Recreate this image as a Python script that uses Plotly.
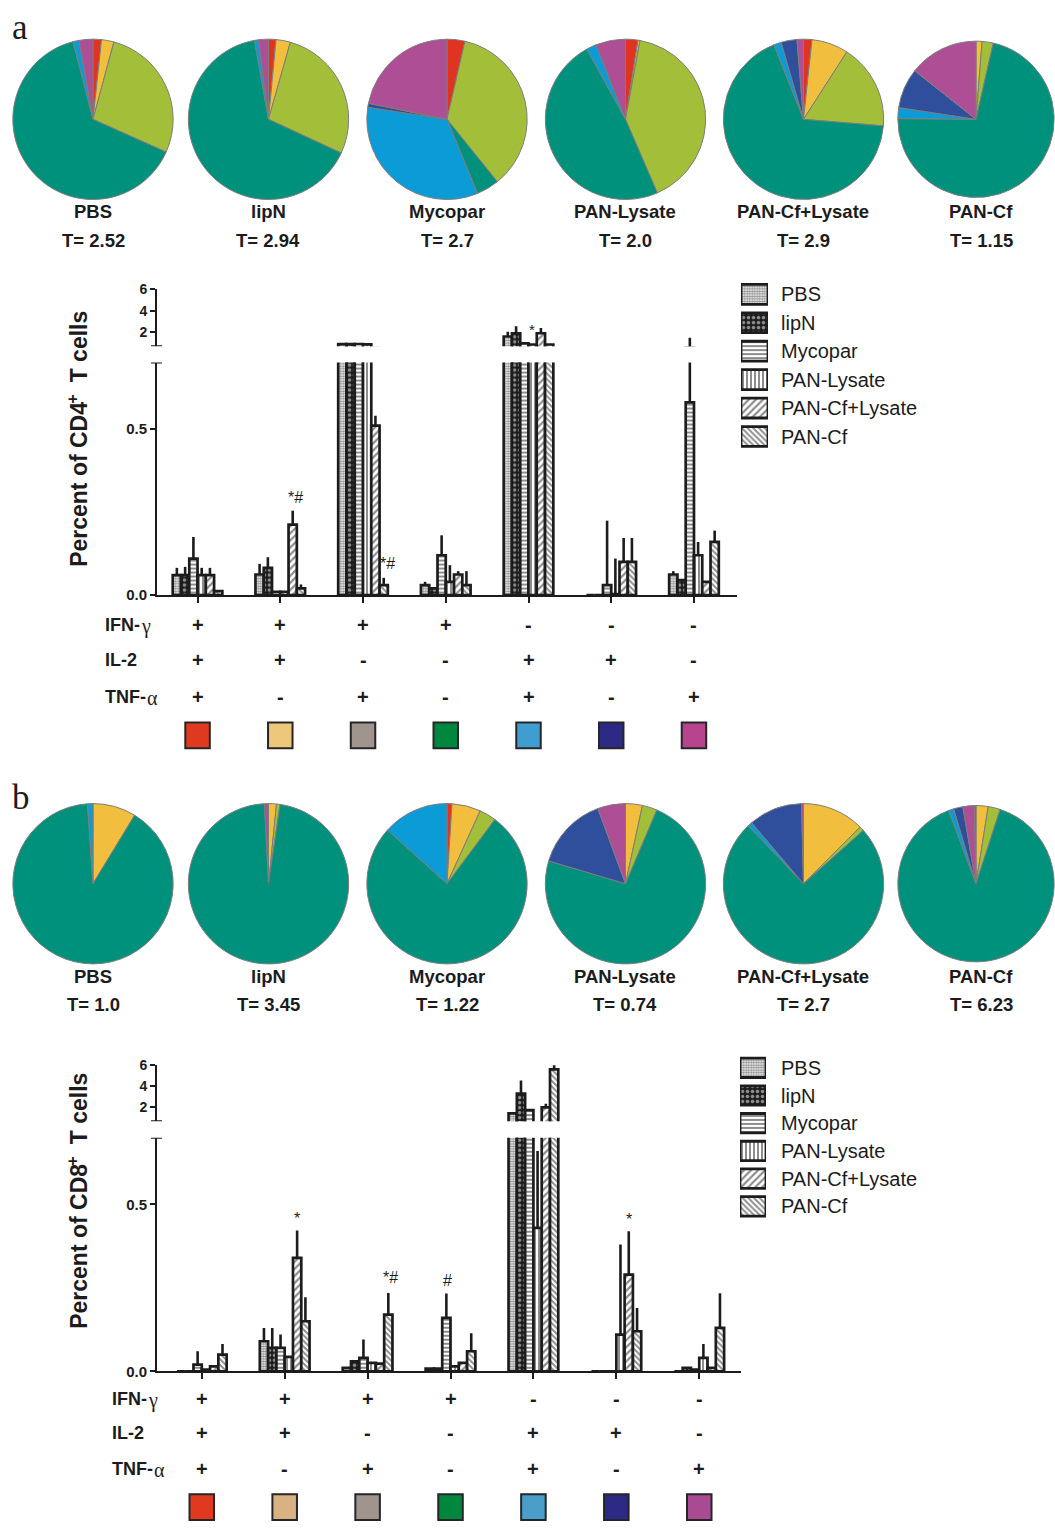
import plotly.graph_objects as go

W, H = 1055, 1530
INK = "#1c1c1c"
SANS = "Liberation Sans, Arial, sans-serif"
SERIF = "Liberation Serif, Times New Roman, serif"

treatments = ["PBS", "lipN", "Mycopar", "PAN-Lysate", "PAN-Cf+Lysate", "PAN-Cf"]

# cytokine combinations along the bar-chart x axis
ifn_signs = ["+", "+", "+", "+", "-", "-", "-"]
il2_signs = ["+", "+", "-", "-", "+", "+", "-"]
tnf_signs = ["+", "-", "+", "-", "+", "-", "+"]
cd4_key_colors = ["#df3a20", "#eec87a", "#9f948e", "#00873f", "#409dcf", "#2d2a86", "#b8448f"]
cd8_key_colors = ["#df3a20", "#d9b182", "#9f948e", "#00873f", "#4a9ec9", "#2d2a86", "#a84b93"]

# ---- pie charts (slices listed clockwise from 12 o'clock, % of responders) ----
pie_slice_colors = {
    "teal": "#00917d", "ygreen": "#a3bf39", "red": "#df3520", "yellow": "#f1bf3d",
    "magenta": "#ae4f95", "lblue": "#0b9bd7", "dblue": "#2f4f9c",
}
cd4_pie_slices = [
    ["red", "yellow", "ygreen", "teal", "lblue", "magenta"],
    ["red", "yellow", "ygreen", "teal", "lblue", "magenta"],
    ["red", "ygreen", "teal", "lblue", "dblue", "magenta"],
    ["red", "yellow", "ygreen", "teal", "lblue", "magenta"],
    ["red", "yellow", "ygreen", "teal", "lblue", "dblue", "magenta"],
    ["yellow", "ygreen", "teal", "lblue", "dblue", "magenta"],
]
cd4_pie_values = [
    [1.7, 2.5, 27.5, 64.3, 1.2, 2.8],
    [1.5, 2.9, 27.5, 65.3, 0.8, 2.0],
    [3.6, 35.6, 4.6, 33.6, 0.8, 21.8],
    [2.5, 0.4, 40.6, 48.5, 2.0, 6.0],
    [1.7, 7.4, 17.2, 67.7, 1.5, 3.2, 1.3],
    [1.25, 2.3, 71.6, 2.25, 8.25, 14.35],
]
cd4_pie_T = ["2.52", "2.94", "2.7", "2.0", "2.9", "1.15"]

cd8_pie_slices = [
    ["yellow", "teal", "lblue"],
    ["yellow", "ygreen", "teal", "magenta"],
    ["red", "yellow", "ygreen", "teal", "lblue"],
    ["yellow", "ygreen", "teal", "dblue", "magenta"],
    ["yellow", "ygreen", "teal", "lblue", "dblue", "magenta"],
    ["yellow", "ygreen", "teal", "lblue", "dblue", "magenta", "red"],
]
cd8_pie_values = [
    [8.7, 90.2, 1.1],
    [1.6, 0.7, 96.9, 0.8],
    [1.0, 5.8, 3.4, 76.5, 13.3],
    [3.4, 3.0, 73.2, 14.8, 5.6],
    [12.5, 0.9, 74.5, 0.9, 10.8, 0.4],
    [2.5, 2.5, 89.3, 1.1, 1.9, 2.4, 0.3],
]
cd8_pie_T = ["1.0", "3.45", "1.22", "0.74", "2.7", "6.23"]

# ---- bar charts: mean and upper error for each cytokine combination ----
cd4_pbs = [0.060, 0.062, 0.88, 0.030, 1.60, 0.0, 0.062]
cd4_pbs_err = [0.022, 0.032, 0.0, 0.010, 0.45, 0.0, 0.010]
cd4_lipn = [0.060, 0.082, 0.88, 0.020, 1.90, 0.0, 0.045]
cd4_lipn_err = [0.025, 0.032, 0.0, 0.0, 0.65, 0.0, 0.0]
cd4_mycopar = [0.110, 0.010, 0.90, 0.120, 0.95, 0.030, 0.580]
cd4_mycopar_err = [0.065, 0.0, 0.10, 0.060, 0.0, 0.194, 0.90]
cd4_panlys = [0.060, 0.010, 0.86, 0.040, 0.85, 0.003, 0.120]
cd4_panlys_err = [0.022, 0.0, 0.0, 0.050, 0.0, 0.107, 0.040]
cd4_pancflys = [0.060, 0.212, 0.51, 0.062, 1.90, 0.100, 0.040]
cd4_pancflys_err = [0.022, 0.042, 0.03, 0.010, 0.50, 0.072, 0.0]
cd4_pancf = [0.012, 0.020, 0.030, 0.030, 0.85, 0.100, 0.160]
cd4_pancf_err = [0.0, 0.012, 0.022, 0.042, 0.0, 0.072, 0.034]

cd8_pbs = [0.0, 0.090, 0.010, 0.008, 1.45, 0.0, 0.0]
cd8_pbs_err = [0.0, 0.040, 0.0, 0.0, 0.0, 0.0, 0.0]
cd8_lipn = [0.0, 0.070, 0.030, 0.008, 3.30, 0.0, 0.010]
cd8_lipn_err = [0.0, 0.060, 0.0, 0.0, 1.25, 0.0, 0.0]
cd8_mycopar = [0.020, 0.070, 0.040, 0.160, 1.75, 0.0, 0.005]
cd8_mycopar_err = [0.040, 0.040, 0.055, 0.073, 0.0, 0.0, 0.0]
cd8_panlys = [0.005, 0.043, 0.025, 0.015, 0.43, 0.110, 0.040]
cd8_panlys_err = [0.0, 0.0, 0.0, 0.0, 0.23, 0.270, 0.042]
cd8_pancflys = [0.015, 0.340, 0.023, 0.025, 2.00, 0.290, 0.010]
cd8_pancflys_err = [0.0, 0.082, 0.0, 0.0, 0.35, 0.130, 0.0]
cd8_pancf = [0.050, 0.150, 0.170, 0.060, 5.60, 0.120, 0.130]
cd8_pancf_err = [0.032, 0.072, 0.065, 0.054, 0.45, 0.070, 0.104]

# significance marks: (combination index, treatment index, text)
cd4_marks = [(1, 4, "*#"), (2, 5, "*#")]
cd8_marks = [(1, 4, "*"), (2, 5, "*#"), (3, 2, "#"), (4, 5, "*#"), (5, 4, "*")]

# ---- styling ----
pattern_shapes = [".", ".", "-", "|", "/", "\\"]
pattern_fg = [INK, "white", INK, INK, INK, INK]
pattern_bg = ["white", INK, "white", "white", "white", "white"]
pattern_size = [2.5, 5, 4, 4, 5, 4]
pattern_solidity = [0.65, 0.4, 0.5, 0.5, 0.45, 0.48]

combo_idx = list(range(len(ifn_signs)))


def fx(px):
    return px / W


def fy(py):
    return 1 - py / H


def note(x, y, text, size, xref="paper", yref="paper", xanchor="center", yanchor="middle", **kw):
    family = kw.pop("family", SANS)
    return dict(x=x, y=y, xref=xref, yref=yref, text=text, showarrow=False,
                xanchor=xanchor, yanchor=yanchor,
                font=dict(family=family, size=size, color=INK), **kw)


fig = go.Figure()

# ---------- pies ----------
pie_cx = [93, 268.5, 447, 625.5, 803.5, 976]
pie_r = [81, 81, 81, 81, 81, 79]
label_x = [93, 268, 447, 625, 803, 981]
annotations = []


def add_pies(slices, values, totals, cy, name_y, t_y):
    for i in range(len(treatments)):
        cx, r = pie_cx[i], pie_r[i]
        fig.add_trace(go.Pie(
            labels=slices[i], values=values[i],
            marker=dict(colors=[pie_slice_colors[s] for s in slices[i]],
                        line=dict(color="#7d7d7d", width=1)),
            sort=False, direction="clockwise", rotation=0,
            textinfo="none", hoverinfo="skip", showlegend=False,
            domain=dict(x=[fx(cx - r), min(1.0, fx(cx + r))], y=[fy(cy + r), fy(cy - r)]),
        ))
        annotations.append(note(fx(label_x[i]), fy(name_y), f"<b>{treatments[i]}</b>", 18.5))
        annotations.append(note(fx(label_x[i]), fy(t_y), f"<b>T= {totals[i]}</b>", 18.5))


add_pies(cd4_pie_slices, cd4_pie_values, cd4_pie_T, 112.5, 206, 235)
add_pies(cd8_pie_slices, cd8_pie_values, cd8_pie_T, 885, 979, 1007)

# ---------- bars ----------
cd4_series = [(cd4_pbs, cd4_pbs_err), (cd4_lipn, cd4_lipn_err), (cd4_mycopar, cd4_mycopar_err),
              (cd4_panlys, cd4_panlys_err), (cd4_pancflys, cd4_pancflys_err), (cd4_pancf, cd4_pancf_err)]
cd8_series = [(cd8_pbs, cd8_pbs_err), (cd8_lipn, cd8_lipn_err), (cd8_mycopar, cd8_mycopar_err),
              (cd8_panlys, cd8_panlys_err), (cd8_pancflys, cd8_pancflys_err), (cd8_pancf, cd8_pancf_err)]


def bar_marker(k, lw=2.7):
    return dict(color="white", line=dict(color=INK, width=lw),
                pattern=dict(shape=pattern_shapes[k], fgcolor=pattern_fg[k], bgcolor=pattern_bg[k],
                             size=pattern_size[k], solidity=pattern_solidity[k]))


def add_bar_panel(series, xa, ylo, yup):
    for k, (means, errs) in enumerate(series):
        for ya in (ylo, yup):
            fig.add_trace(go.Bar(
                x=combo_idx, y=means, xaxis=xa, yaxis=ya, name=treatments[k],
                marker=bar_marker(k),
                error_y=dict(type="data", array=errs, arrayminus=[0] * len(errs), symmetric=False,
                             width=0, thickness=2.6, color=INK),
                showlegend=False, hoverinfo="skip",
            ))


add_bar_panel(cd4_series, "x", "y", "y2")
add_bar_panel(cd8_series, "x2", "y3", "y4")

BREAK = 0.7
GROUP_W = 0.6
n_tr = len(treatments)


def bar_center(g, k):
    return g + (k - (n_tr - 1) / 2) * GROUP_W / n_tr


def add_marks(marks, series, xref, yref_lo, yref_hi, shifts):
    for (g, k, txt), (dx, dy) in zip(marks, shifts):
        top = series[k][0][g] + series[k][1][g]
        yref = yref_hi if top > BREAK else yref_lo
        annotations.append(note(bar_center(g, k), top, txt, 16, xref=xref, yref=yref,
                                yanchor="bottom", xshift=dx, yshift=dy))


add_marks(cd4_marks, cd4_series, "x", "y", "y2", [(3, 3), (4, 4)])
add_marks(cd8_marks, cd8_series, "x2", "y3", "y4", [(0, 2), (2, 5), (1, 3), (1, 5), (0, 1)])
# star over the IFN-/IL-2+/TNF+ CD4 group
annotations.append(note(bar_center(4, 4), cd4_pancflys[4] + cd4_pancflys_err[4], "*", 15,
                        xref="x", yref="y2", xshift=-9, yshift=-2))

# ---------- pattern keys ----------
for xa, ya in (("x3", "y5"), ("x4", "y6")):
    fig.add_trace(go.Bar(
        orientation="h", x=[1] * n_tr, y=treatments, width=0.7, xaxis=xa, yaxis=ya,
        marker=dict(color="white", line=dict(color=INK, width=2.8),
                    pattern=dict(shape=pattern_shapes, fgcolor=pattern_fg, bgcolor=pattern_bg,
                                 size=pattern_size, solidity=pattern_solidity)),
        showlegend=False, hoverinfo="skip",
    ))
    for t in treatments:
        annotations.append(note(fx(779), t, t, 20, yref=ya, xanchor="left"))

# ---------- cytokine rows and colour keys ----------
shapes = []
ROW_SIZE = 18
# row captions: bold prefix followed by a serif Greek letter
row_prefix = ["IFN-", "IL-2", "TNF-"]
row_greek = ["γ", "", "α"]
prefix_em = [1.944, 2.0, 2.277]   # Arial-bold advance widths of the prefixes (em)


def add_rows(xref, label_left, ys, key_y, colors):
    for j, (yy, signs) in enumerate(zip(ys, (ifn_signs, il2_signs, tnf_signs))):
        annotations.append(note(fx(label_left), fy(yy), f"<b>{row_prefix[j]}</b>", ROW_SIZE,
                                xanchor="left"))
        if row_greek[j]:
            annotations.append(note(fx(label_left + prefix_em[j] * ROW_SIZE + 1), fy(yy + 1),
                                    row_greek[j], 20, xanchor="left", family=SERIF))
        for i, s in enumerate(signs):
            annotations.append(note(i, fy(yy), f"<b>{s}</b>", 20, xref=xref))
    for i, c in enumerate(colors):
        shapes.append(dict(type="rect", xref=xref, yref="paper", x0=i - 0.148, x1=i + 0.148,
                           y0=fy(key_y + 13), y1=fy(key_y - 13), fillcolor=c,
                           line=dict(color="#262626", width=2)))


add_rows("x", 103, (624, 659, 696), 735, cd4_key_colors)
add_rows("x2", 110, (1406, 1440, 1476), 1515, cd8_key_colors)

# axis break caps
for yref in ("y", "y2", "y3", "y4"):
    shapes.append(dict(type="line", xref="paper", yref=yref, x0=fx(151), x1=fx(162),
                       y0=BREAK, y1=BREAK, line=dict(color=INK, width=2)))

# vertical axis titles, laid out piecewise so the "+" can sit raised
TITLE_SIZE = 23
SUP_SIZE = 16
head_em = 7.168          # "Percent of CD4" in Arial bold
tail_em = 3.113          # "T cells"
gap_em = 0.556           # two spaces
plus_em = 0.584


def add_title(cell, x_center, y_mid):
    total = (head_em + gap_em + tail_em) * TITLE_SIZE + plus_em * SUP_SIZE
    y0 = y_mid + total / 2
    annotations.append(note(fx(x_center), fy(y0), f"<b>Percent of {cell}</b>", TITLE_SIZE,
                            textangle=-90, yanchor="bottom"))
    y1 = y0 - head_em * TITLE_SIZE
    annotations.append(note(fx(x_center - 6), fy(y1), "<b>+</b>", SUP_SIZE,
                            textangle=-90, yanchor="bottom"))
    y2 = y1 - plus_em * SUP_SIZE - gap_em * TITLE_SIZE
    annotations.append(note(fx(x_center), fy(y2), "<b>T cells</b>", TITLE_SIZE,
                            textangle=-90, yanchor="bottom"))


add_title("CD4", 79, 438)
add_title("CD8", 79, 1208)
annotations.append(note(fx(19.5), fy(19.5), "a", 35, family=SERIF))
annotations.append(note(fx(20.5), fy(798), "b", 35, family=SERIF))


# ---------- axes ----------
def xaxis(domain_px, rng, anchor):
    return dict(domain=[fx(domain_px[0]), fx(domain_px[1])], range=rng, anchor=anchor,
                tickvals=combo_idx, showticklabels=False, ticks="outside", ticklen=6, tickwidth=1.5,
                tickcolor=INK, showline=True, linewidth=2, linecolor=INK, showgrid=False,
                zeroline=False, fixedrange=True)


def yaxis(domain_px, rng, anchor, tickvals, ticktext, size):
    return dict(domain=[fy(domain_px[1]), fy(domain_px[0])], range=rng, anchor=anchor,
                tickvals=tickvals, ticktext=ticktext, ticks="outside", ticklen=5, tickwidth=1.5,
                tickcolor=INK, showline=True, linewidth=2, linecolor=INK, showgrid=False,
                zeroline=False, fixedrange=True,
                tickfont=dict(family=SANS, size=size, color=INK, weight="bold"))


def key_axes(xpx, ypx, anchor_x, anchor_y):
    xa = dict(domain=[fx(xpx[0]), fx(xpx[1])], range=[0, 1], anchor=anchor_y, visible=False,
              fixedrange=True)
    ya = dict(domain=[fy(ypx[1]), fy(ypx[0])], type="category", categoryorder="array",
              categoryarray=treatments, autorange="reversed", anchor=anchor_x, visible=False,
              fixedrange=True)
    return xa, ya


k3x, k5y = key_axes((741, 768), (275, 447.4), "x3", "y5")
k4x, k6y = key_axes((740, 766), (1057, 1225), "x4", "y6")

fig.update_layout(
    width=W, height=H, margin=dict(l=0, r=0, t=0, b=0, pad=0),
    paper_bgcolor="white", plot_bgcolor="rgba(0,0,0,0)",
    barmode="group", bargap=1 - GROUP_W, bargroupgap=0,
    xaxis=xaxis((157, 737), [-0.49, 6.52], "y"),
    yaxis=yaxis((358.3, 593.3), [0, BREAK], "x", [0, 0.5], ["0.0", "0.5"], 15),
    yaxis2=yaxis((284.3, 341.7), [BREAK, 6], "x", [2, 4, 6], ["2", "4", "6"], 14),
    xaxis2=xaxis((157, 740.7), [-0.54, 6.5], "y3"),
    yaxis3=yaxis((1141.7, 1377.7), [0, BREAK], "x2", [0, 0.5], ["0.0", "0.5"], 15),
    yaxis4=yaxis((1068.3, 1125), [BREAK, 6], "x2", [2, 4, 6], ["2", "4", "6"], 14),
    xaxis3=k3x, yaxis5=k5y, xaxis4=k4x, yaxis6=k6y,
    annotations=annotations, shapes=shapes,
    font=dict(family=SANS, color=INK),
)

fig.write_html("out.html")
